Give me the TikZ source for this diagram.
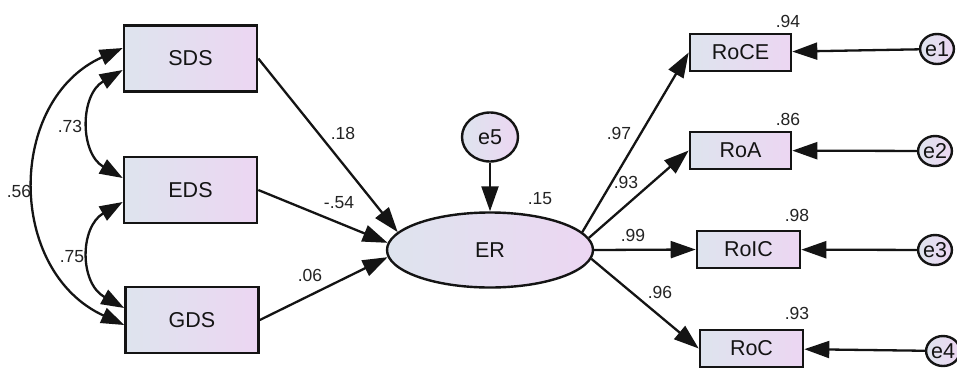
\documentclass[tikz,border=0pt]{standalone}
\usepackage{fontspec}
\setmainfont{Liberation Sans}
\usetikzlibrary{arrows.meta,shapes.geometric}

\definecolor{shadeL}{RGB}{222,228,238}
\definecolor{shadeR}{RGB}{236,214,242}
\definecolor{ink}{RGB}{20,20,20}
\definecolor{coef}{RGB}{35,35,35}

\tikzset{
  obs/.style={rectangle, draw=ink, line width=2.6pt, left color=shadeL, right color=shadeR,
    inner sep=0pt, text=ink, font=\fontsize{21.5}{24}\selectfont},
  big/.style={obs, minimum width=133pt, minimum height=66pt},
  small/.style={obs, minimum width=101pt, minimum height=37pt},
  latent/.style={ellipse, draw=ink, line width=2.4pt, left color=shadeL, right color=shadeR,
    inner sep=0pt, text=ink, font=\fontsize{21.5}{24}\selectfont},
  errsmall/.style={latent, minimum width=33pt, minimum height=30pt},
  path/.style={line width=2.3pt, draw=ink, -{Triangle[length=25pt,width=17pt]}},
  cov/.style={line width=2.3pt, draw=ink, {Triangle[length=23pt,width=16pt]}-{Triangle[length=23pt,width=16pt]}},
  lab/.style={text=coef, font=\fontsize{17.5}{20}\selectfont, inner sep=0pt}
}

\begin{document}
\begin{tikzpicture}[x=1pt,y=-1pt]
\useasboundingbox[fill=white] (0,0) rectangle (957,367);

% exogenous indicators
\node[big] (SDS) at (190.5,58.5) {SDS};
\node[big] (EDS) at (190.5,190) {EDS};
\node[big] (GDS) at (192,320) {GDS};

% latent outcome and its disturbance
\node[latent, minimum width=206pt, minimum height=75pt] (ER) at (490,250) {ER};
\node[latent, minimum width=56pt, minimum height=49pt] (e5) at (490,137) {e5};

% measured outcomes
\node[small] (RoCE) at (740.5,52.5) {RoCE};
\node[small] (RoA) at (740.5,150.5) {RoA};
\node[small, minimum width=103pt] (RoIC) at (748.5,249.5) {RoIC};
\node[small, minimum width=103pt] (RoC) at (751.5,348.5) {RoC};

% error terms
\node[errsmall] (e1) at (937,49) {e1};
\node[errsmall] (e2) at (935,151) {e2};
\node[errsmall] (e3) at (935,250) {e3};
\node[errsmall] (e4) at (943,351) {e4};

% covariances
\draw[cov] ([yshift=10.5pt]SDS.west) .. controls +(-116,52) and +(-118,-54) .. ([yshift=-5pt]GDS.west);
\draw[cov] ([yshift=-11.5pt]SDS.west) .. controls +(-43,25) and +(-43,-25) .. ([yshift=12pt]EDS.west);
\draw[cov] ([yshift=-12pt]EDS.west) .. controls +(-43,25) and +(-45,-25) .. ([yshift=12pt]GDS.west);

% structural paths
\draw[path] (SDS.east) -- (ER.169);
\draw[path] (EDS.east) -- (ER.176);
\draw[path] (GDS.east) -- (ER.184);
\draw[path] (e5) -- (ER);

% loadings
\draw[path] (ER.11) -- (RoCE.west);
\draw[path] (ER.7) -- (RoA.west);
\draw[path] (ER.east) -- (RoIC.west);
\draw[path] (ER.-5) -- (RoC.west);

% measurement errors
\draw[path] (e1) -- (RoCE);
\draw[path] (e2) -- (RoA);
\draw[path] (e3) -- (RoIC);
\draw[path] (e4) -- (RoC);

% coefficients
\node[lab] (c73) at (70,126) {.73};
\node[lab] (c56) at (19,191) {.56};
\node[lab] (c75) at (72,257) {.75};
\node[lab] (c18) at (343,133) {.18};
\node[lab] (c54) at (339,203) {-.54};
\node[lab] (c06) at (310,275) {.06};
\node[lab] (c15) at (540,199) {.15};
\node[lab] (c97) at (619,133) {.97};
\node[lab] (c93a) at (626,182) {.93};
\node[lab] (c99) at (633,235) {.99};
\node[lab] (c96) at (660,292) {.96};
\node[lab] (c94) at (788,21) {.94};
\node[lab] (c86) at (788,119) {.86};
\node[lab] (c98) at (797,215) {.98};
\node[lab] (c93b) at (797,313) {.93};
\end{tikzpicture}
\end{document}
